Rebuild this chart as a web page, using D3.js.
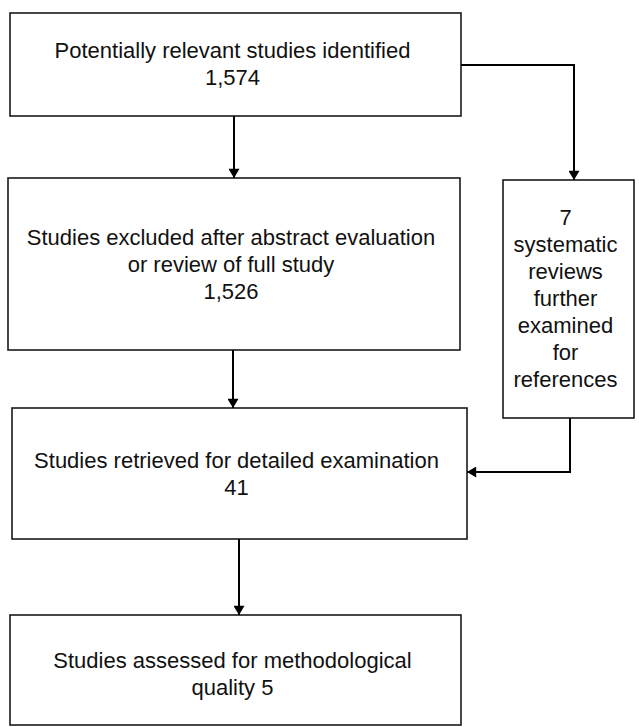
<!DOCTYPE html>
<html>
<head>
<meta charset="utf-8">
<script src="https://cdn.jsdelivr.net/npm/d3@7"></script>
<style>
  body { margin: 0; background: #fff; }
  text { font-family: "Liberation Sans", Arial, sans-serif; fill: #111; }
</style>
</head>
<body>
<div id="chart"></div>
<script>
// flow stages (main column), each a list of text lines
var mainLines = [
    ["Potentially relevant studies identified", "1,574"],
    ["Studies excluded after abstract evaluation", "or review of full study", "1,526"],
    ["Studies retrieved for detailed examination", "41"],
    ["Studies assessed for methodological", "quality 5"]
];
var sideLines = ["7", "systematic", "reviews", "further", "examined", "for", "references"];

var width = 639, height = 727;
var svg = d3.select("#chart").append("svg")
    .attr("width", width)
    .attr("height", height);

svg.append("defs").append("marker")
    .attr("id", "arrow")
    .attr("viewBox", "0 0 10 12")
    .attr("refX", 10).attr("refY", 6)
    .attr("markerWidth", 12).attr("markerHeight", 11)
    .attr("markerUnits", "userSpaceOnUse")
    .attr("orient", "auto")
    .append("path")
    .attr("d", "M0,0L10,6L0,12Z")
    .attr("fill", "#000");

// box geometry
var boxes = [
    {x: 10, y: 13, w: 451, h: 103},
    {x: 8, y: 178, w: 452, h: 172},
    {x: 12, y: 408, w: 455, h: 131},
    {x: 10, y: 615, w: 451, h: 110}
];
var side = {x: 503, y: 180, w: 131, h: 238};

var fontSize = 22, lineH = 27;

function drawBox(b, lines, shift) {
    svg.append("rect")
        .attr("x", b.x).attr("y", b.y)
        .attr("width", b.w).attr("height", b.h)
        .attr("fill", "#fff")
        .attr("stroke", "#1a1a1a")
        .attr("stroke-width", 1.6);
    var cy = b.y + b.h / 2 - (lines.length - 1) * lineH / 2 + (shift || 0);
    svg.append("g").selectAll("text")
        .data(lines)
        .enter()
        .append("text")
        .attr("x", b.x + b.w / 2 - 3)
        .attr("y", (d, i) => cy + i * lineH)
        .attr("dy", "0.36em")
        .attr("text-anchor", "middle")
        .attr("font-size", fontSize)
        .text(d => d);
}

var shifts = [-1, 0, 0, 4];
boxes.forEach(function(b, i) {
    drawBox(b, mainLines[i], shifts[i]);
});
drawBox(side, sideLines, -1);

var line = d3.line();
function arrow(pts) {
    svg.append("path")
        .attr("d", line(pts))
        .attr("fill", "none")
        .attr("stroke", "#000")
        .attr("stroke-width", 2)
        .attr("marker-end", "url(#arrow)");
}

arrow([[234, 116], [234, 178]]);
arrow([[233, 350], [233, 408]]);
arrow([[239, 539], [239, 615]]);
arrow([[461, 65], [574, 65], [574, 180]]);
arrow([[570, 418], [570, 472], [467, 472]]);
</script>
</body>
</html>
